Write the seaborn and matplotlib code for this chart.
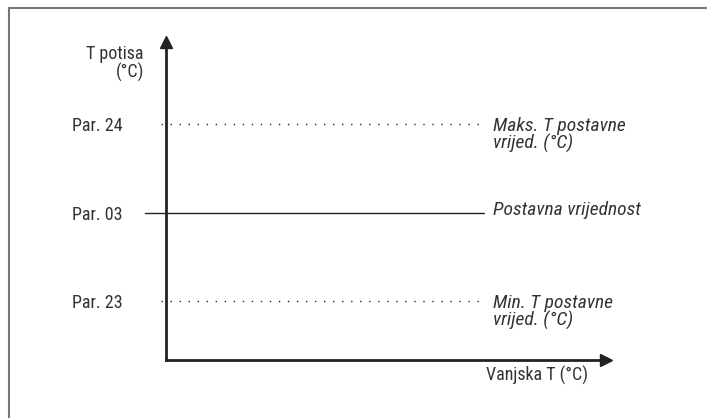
import numpy as np
import pandas as pd
import seaborn as sns
import matplotlib.pyplot as plt
from matplotlib.lines import Line2D
from matplotlib import font_manager

# set-point levels, bottom to top
levels = [1, 2, 3]
level_names = ["Par. 23", "Par. 03", "Par. 24"]
level_texts = ["Min. T postavne\nvrijed. (°C)", "Postavna vrijednost", "Maks. T postavne\nvrijed. (°C)"]
level_styles = [":", "-", ":"]
y_label = "T potisa\n(°C)"
x_label = "Vanjska T (°C)"

sns.set_theme(style="white")
names = {f.name for f in font_manager.fontManager.ttflist}
fams = [n for n in ["Roboto Condensed", "Liberation Sans Narrow", "Arial Narrow",
                    "Open Sans Condensed", "Roboto"] if n in names] + ["DejaVu Sans"]
plt.rcParams["font.family"] = fams
plt.rcParams["font.size"] = 13

ink = "#222222"
txt = "#333333"

fig = plt.figure(figsize=(7.07, 4.18), dpi=100)
ax = fig.add_axes([166 / 707, 58 / 418, 440 / 707, 318 / 418])
ax.set_xlim(0, 1)
ax.set_ylim(0.333, 3.927)

trans = ax.get_yaxis_transform()
for v, st in zip(levels, level_styles):
    x0 = -0.048 if st == "-" else -0.011
    ls = "-" if st == "-" else (0, (1, 5.5))
    sns.lineplot(x=[x0, 0.723], y=[v, v], ax=ax, color=ink, linestyle=ls,
                 lw=1.0, transform=trans, clip_on=False)

for v, lab in zip(levels, level_texts):
    dy = -17.5 if "\n" in lab else -2
    ax.annotate(lab, xy=(0.743, v), xycoords=trans, xytext=(0, dy),
                textcoords="offset points", ha="left", va="baseline",
                style="italic", color=txt, linespacing=0.9, fontsize=14)

ax.set_yticks(levels)
ax.set_yticklabels(level_names, color=txt)
ax.set_xticks([])
ax.tick_params(axis="y", length=0, pad=31, labelsize=13)

for s in ["top", "right"]:
    ax.spines[s].set_visible(False)
for s in ["left", "bottom"]:
    ax.spines[s].set_color(ink)
    ax.spines[s].set_linewidth(2)
    ax.spines[s].set_capstyle("projecting")

# arrow heads
ax.plot(1, 0, ">", color=ink, ms=8, transform=ax.transAxes, clip_on=False)
ax.plot(0, 1, "^", color=ink, ms=8, transform=ax.transAxes, clip_on=False)

fig.text(144 / 707, 1 - 45 / 418, y_label, ha="right", va="top",
         color=txt, linespacing=1.0, multialignment="right")
fig.text(588 / 707, 1 - 366 / 418, x_label, ha="right", va="top", color=txt)

# frame (top and left only)
fig.add_artist(Line2D([9 / 707, 1], [1 - 8 / 418, 1 - 8 / 418], color="#777777", lw=1.5))
fig.add_artist(Line2D([9 / 707, 9 / 707], [0, 1 - 8 / 418], color="#777777", lw=1.5))

fig.savefig("out.png", dpi=100)
